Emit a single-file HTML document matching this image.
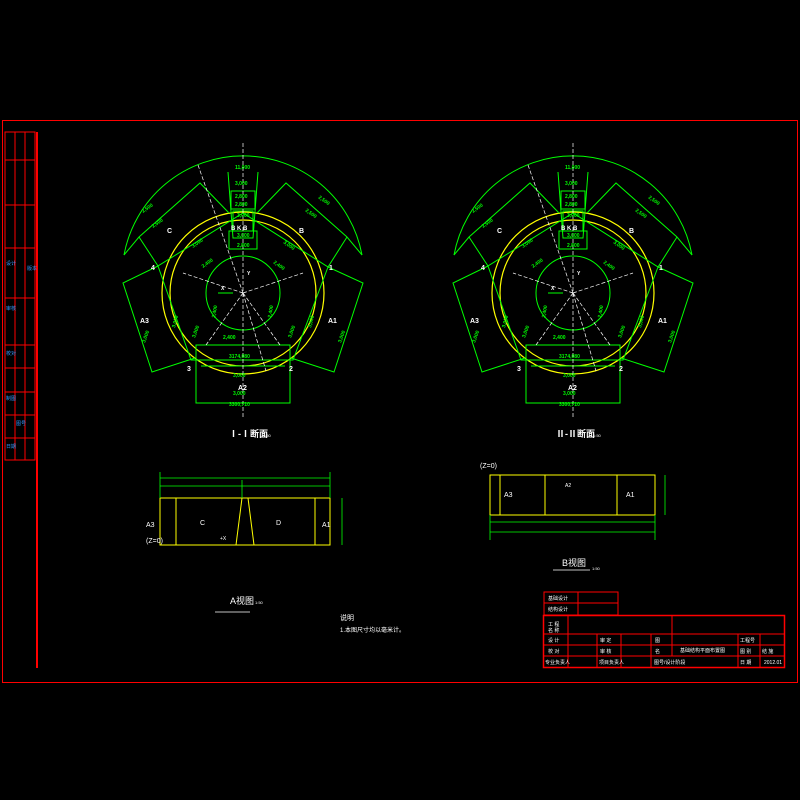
<!DOCTYPE html>
<html><head><meta charset="utf-8"><style>html,body{margin:0;padding:0;background:#000}svg{display:block}</style></head><body>
<svg width="800" height="800" viewBox="0 0 800 800" xmlns="http://www.w3.org/2000/svg" font-family="Liberation Sans, Noto Sans CJK SC, sans-serif">
<rect width="800" height="800" fill="#000"/>
<rect x="2.5" y="120.5" width="795" height="562" fill="none" stroke="#f00" stroke-width="1"/>
<line x1="37" y1="132" x2="37" y2="668" stroke="#f00" stroke-width="2"/>
<rect x="5" y="132" width="30" height="328" fill="none" stroke="#f00"/>
<g stroke="#f00" stroke-width="1">
<line x1="5" y1="160" x2="35" y2="160"/><line x1="5" y1="205" x2="35" y2="205"/><line x1="5" y1="248" x2="35" y2="248"/><line x1="5" y1="298" x2="35" y2="298"/><line x1="5" y1="345" x2="35" y2="345"/><line x1="5" y1="368" x2="35" y2="368"/><line x1="5" y1="392" x2="35" y2="392"/><line x1="5" y1="415" x2="35" y2="415"/><line x1="5" y1="438" x2="35" y2="438"/>
<line x1="15" y1="132" x2="15" y2="460"/><line x1="25" y1="132" x2="25" y2="460"/>
</g>
<g fill="#39f" font-size="5">
<text x="6" y="265">设计</text><text x="6" y="310">审核</text><text x="6" y="355">校对</text><text x="6" y="400">制图</text><text x="6" y="448">日期</text>
<text x="27" y="270">版本</text><text x="16" y="425">图号</text>
</g>

<defs>
<g id="sec">
 <circle cx="0" cy="0" r="81" fill="none" stroke="#ff0" stroke-width="1.2"/>
 <circle cx="0" cy="0" r="73" fill="none" stroke="#ff0" stroke-width="1.2"/>
 <circle cx="0" cy="0" r="37" fill="none" stroke="#0f0" stroke-width="1"/>
 <g fill="none" stroke="#0f0" stroke-width="1">
  <path d="M-119,-38 A121,121 0 0 1 119,-38"/>
  <polygon points="-85,-27 -52,67 50,67 85,-26 0,-80"/>
  <polyline points="-15,-121 -10,-55 10,-55 15,-121"/>
  <rect x="-12" y="-102" width="24" height="18"/>
  <rect x="-10" y="-82" width="20" height="20"/>
  <rect x="-14" y="-62" width="28" height="18"/>
  <polyline points="-119,-38 -104,-56 -43,-110 -14,-80"/>
  <line x1="-104" y1="-56" x2="-85" y2="-27"/>
  <polyline points="119,-38 104,-56 43,-110 14,-80"/>
  <line x1="104" y1="-56" x2="85" y2="-26"/>
  <polyline points="-85,-27 -120,-10 -91,79 -48,65"/>
  <polyline points="85,-26 120,-10 91,79 48,65"/>
  <rect x="-47" y="52" width="94" height="58"/>
  <line x1="-42" y1="73" x2="42" y2="73"/>
 </g>
 <g stroke="#fff" stroke-width="0.7" stroke-dasharray="4,2" fill="none">
  <line x1="0" y1="-150" x2="0" y2="125"/>
  <line x1="-45" y1="-128" x2="0" y2="0"/>
  <line x1="0" y1="0" x2="-60" y2="-20"/><line x1="0" y1="0" x2="60" y2="-20"/>
  <line x1="0" y1="0" x2="-37" y2="52"/><line x1="0" y1="0" x2="37" y2="52"/><line x1="0" y1="0" x2="23" y2="78"/>
 </g>
 <line x1="-25" y1="0" x2="-10" y2="0" stroke="#0f0"/>
 <g fill="#fff" font-size="7" font-weight="bold">
  <text x="-76" y="-60">C</text><text x="56" y="-60">B</text>
  <text x="-103" y="30">A3</text><text x="85" y="30">A1</text><text x="-5" y="97">A2</text>
  <text x="-92" y="-23">4</text><text x="86" y="-23">1</text><text x="-56" y="78">3</text><text x="46" y="78">2</text>
  <text x="-12" y="-63" font-size="6">B K B</text><text x="4" y="-18" font-size="5">Y</text><text x="-22" y="-3" font-size="5">X</text>
 </g>
 <g fill="#0f0" font-size="5" font-weight="bold">
  <text x="-8" y="-124">11,000</text><text x="-8" y="-108">3,000</text><text x="-8" y="-95">2,800</text><text x="-8" y="-87">2,800</text><text x="-6" y="-76">3,000</text><text x="-6" y="-56">3,000</text><text x="-6" y="-46">2,800</text>
  <text x="-20" y="46">2,400</text><text x="-14" y="65">3174,080</text><text x="-10" y="84">3,000</text><text x="-10" y="102">3,000</text><text x="-14" y="113">3300,710</text>
  <text x="-100" y="-80" transform="rotate(-35 -100 -80)">2,500</text><text x="-90" y="-65" transform="rotate(-35 -90 -65)">2,500</text>
  <text x="75" y="-95" transform="rotate(35 75 -95)">2,500</text><text x="62" y="-82" transform="rotate(35 62 -82)">2,500</text>
  <text x="-50" y="-45" transform="rotate(-35 -50 -45)">3,000</text><text x="40" y="-50" transform="rotate(35 40 -50)">3,000</text>
  <text x="-40" y="-25" transform="rotate(-35 -40 -25)">2,400</text><text x="30" y="-30" transform="rotate(35 30 -30)">2,400</text>
  <text x="-28" y="25" transform="rotate(-80 -28 25)">2,400</text><text x="28" y="25" transform="rotate(-80 28 25)">2,400</text>
  <text x="-48" y="45" transform="rotate(-70 -48 45)">3,000</text><text x="48" y="45" transform="rotate(-70 48 45)">3,000</text>
  <text x="-68" y="35" transform="rotate(-75 -68 35)">3,000</text><text x="68" y="35" transform="rotate(-75 68 35)">3,000</text>
  <text x="-98" y="50" transform="rotate(-70 -98 50)">3,000</text><text x="98" y="50" transform="rotate(-70 98 50)">3,000</text>
 </g>
</g>
</defs>
<use href="#sec" x="243" y="293"/>
<use href="#sec" x="573" y="293"/>
<g fill="#fff" font-size="9" font-weight="bold">
<text x="229" y="437">Ⅰ-Ⅰ断面</text><text x="556" y="437">Ⅱ-Ⅱ断面</text>
</g>
<g fill="#fff" font-size="4"><text x="263" y="437">1:50</text><text x="593" y="437">1:50</text></g>

<g fill="none" stroke="#ff0" stroke-width="1">
<rect x="160" y="498" width="170" height="47"/>
<line x1="176" y1="498" x2="176" y2="545"/><line x1="315" y1="498" x2="315" y2="545"/>
<line x1="236" y1="545" x2="242" y2="498"/><line x1="248" y1="498" x2="254" y2="545"/>
</g>
<g stroke="#0f0" fill="none" stroke-width="0.8">
<line x1="160" y1="478" x2="330" y2="478"/><line x1="160" y1="486" x2="330" y2="486"/>
<line x1="160" y1="472" x2="160" y2="498"/><line x1="330" y1="472" x2="330" y2="498"/><line x1="242" y1="480" x2="242" y2="498"/>
<line x1="342" y1="498" x2="342" y2="545"/>
<line x1="215" y1="612" x2="250" y2="612" stroke="#fff"/>
</g>
<g fill="#fff" font-size="7">
<text x="146" y="527">A3</text><text x="200" y="525">C</text><text x="276" y="525">D</text><text x="322" y="527">A1</text>
<text x="146" y="543">(Z=0)</text><text x="220" y="540" font-size="5">+X</text>
<text x="230" y="604" font-size="9">A视图</text><text x="255" y="604" font-size="4">1:50</text>
<text x="340" y="620">说明</text><text x="340" y="632" font-size="6">1.本图尺寸均以毫米计。</text>
</g>
<g fill="none" stroke="#ff0" stroke-width="1">
<rect x="490" y="475" width="165" height="40"/>
<line x1="500" y1="475" x2="500" y2="515"/><line x1="545" y1="475" x2="545" y2="515"/><line x1="617" y1="475" x2="617" y2="515"/>
</g>
<g stroke="#0f0" fill="none" stroke-width="0.8">
<line x1="490" y1="522" x2="655" y2="522"/><line x1="490" y1="532" x2="655" y2="532"/>
<line x1="490" y1="515" x2="490" y2="540"/><line x1="655" y1="515" x2="655" y2="540"/>
<line x1="665" y1="475" x2="665" y2="515"/>
<line x1="553" y1="570" x2="590" y2="570" stroke="#fff"/>
</g>
<g fill="#fff" font-size="7">
<text x="504" y="497">A3</text><text x="626" y="497">A1</text><text x="565" y="487" font-size="5">A2</text>
<text x="480" y="468">(Z=0)</text><text x="562" y="566" font-size="9">B视图</text><text x="592" y="570" font-size="4">1:50</text>
</g>

<g fill="none" stroke="#f00" stroke-width="1">
<rect x="544" y="592" width="74" height="23"/><line x1="578" y1="592" x2="578" y2="615"/><line x1="544" y1="603" x2="618" y2="603"/>
<rect x="543.5" y="615.5" width="241" height="52" stroke-width="1.5"/>
<line x1="568" y1="615" x2="568" y2="668"/><line x1="672" y1="615" x2="672" y2="634"/>
<line x1="543" y1="634" x2="785" y2="634"/><line x1="543" y1="645" x2="785" y2="645"/><line x1="543" y1="656" x2="785" y2="656"/>
<line x1="597" y1="634" x2="597" y2="668"/><line x1="621" y1="634" x2="621" y2="668"/><line x1="651" y1="634" x2="651" y2="668"/>
<line x1="672" y1="634" x2="672" y2="656"/><line x1="738" y1="634" x2="738" y2="668"/><line x1="760" y1="634" x2="760" y2="668"/>
<line x1="651" y1="656" x2="738" y2="656"/>
</g>
<g fill="#fff" font-size="5">
<text x="548" y="600">基础设计</text><text x="548" y="611">结构设计</text>
<text x="548" y="626">工 程</text><text x="548" y="632">名 称</text>
<text x="548" y="642">设 计</text><text x="548" y="653">校 对</text><text x="545" y="664">专业负责人</text>
<text x="600" y="642">审 定</text><text x="600" y="653">审 核</text><text x="599" y="664">项目负责人</text>
<text x="655" y="642">图</text><text x="655" y="653">名</text><text x="654" y="664">图号/设计阶段</text>
<text x="680" y="652">基础结构平面布置图</text>
<text x="740" y="642">工程号</text><text x="740" y="653">图 别</text><text x="762" y="653">结 施</text>
<text x="740" y="664">日 期</text><text x="764" y="664">2012.01</text>
</g>
</svg>
</body></html>
